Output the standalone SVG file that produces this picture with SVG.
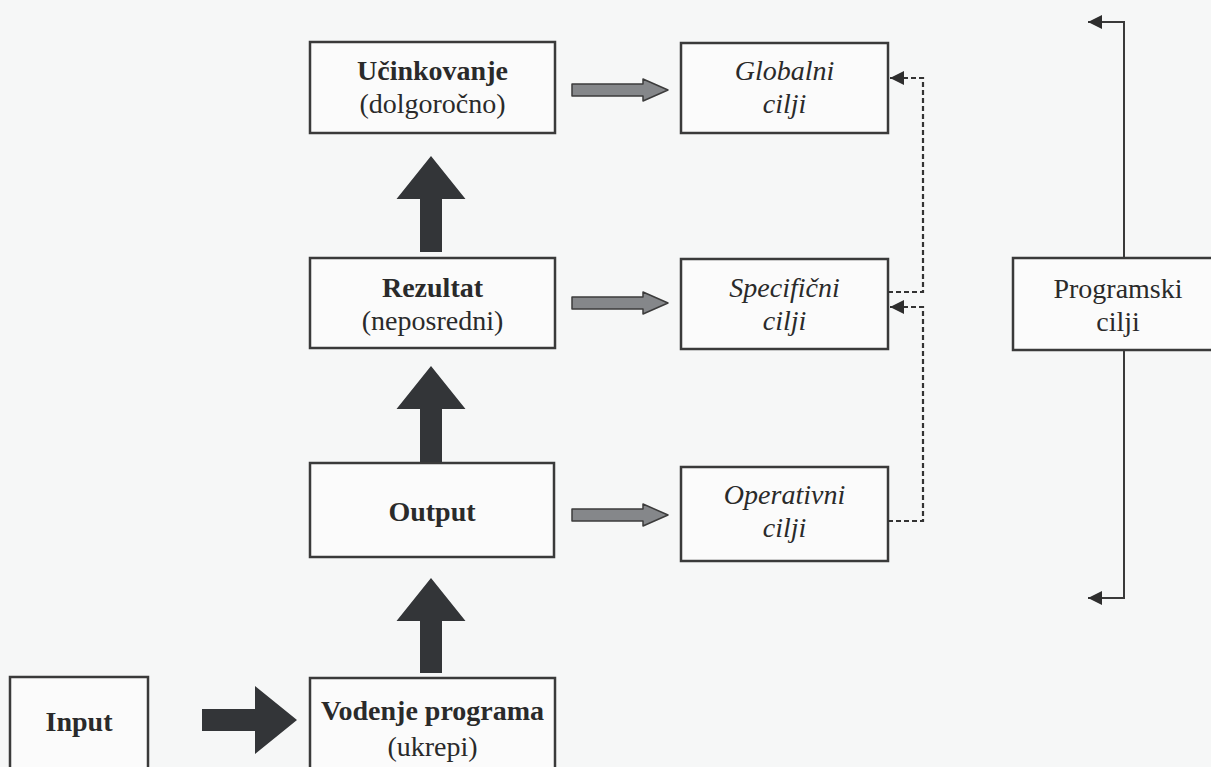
<svg xmlns="http://www.w3.org/2000/svg" width="1211" height="767" viewBox="0 0 1211 767">
<defs>
<style>
.box{fill:#fbfbfb;stroke:#3a3a3a;stroke-width:2.5}
.t{font-family:"Liberation Serif","Times New Roman",serif;font-size:28px;fill:#2a2a2a;text-anchor:middle}
.b{font-weight:bold}
.i{font-style:italic}
.blk{fill:#333538}
.gry{fill:#85878a;stroke:#3c3c3c;stroke-width:1.5;stroke-linejoin:round}
.dash{fill:none;stroke:#333;stroke-width:2.2;stroke-dasharray:5 3}
.sol{fill:none;stroke:#3a3a3a;stroke-width:2}
</style>
<marker id="ah" viewBox="0 0 10 10" refX="10" refY="5" markerWidth="14" markerHeight="14" markerUnits="userSpaceOnUse" orient="auto">
<path d="M0,0 L10,5 L0,10 z" fill="#2e2e2e"/>
</marker>
</defs>
<rect width="1211" height="767" fill="#f6f7f7"/>

<g id="ucinkovanje">
<rect class="box" x="310" y="42" width="245" height="91"/>
<text class="t b" x="432.5" y="80">Učinkovanje</text>
<text class="t" x="432.5" y="113">(dolgoročno)</text>
</g>
<g id="globalni">
<rect class="box" x="681" y="43" width="207" height="90"/>
<text class="t i" x="784.5" y="80">Globalni</text>
<text class="t i" x="784.5" y="113">cilji</text>
</g>
<g id="rezultat">
<rect class="box" x="310" y="258" width="245" height="90"/>
<text class="t b" x="432.5" y="297">Rezultat</text>
<text class="t" x="432.5" y="330">(neposredni)</text>
</g>
<g id="specificni">
<rect class="box" x="681" y="259" width="207" height="90"/>
<text class="t i" x="784.5" y="297">Specifični</text>
<text class="t i" x="784.5" y="330">cilji</text>
</g>
<g id="output">
<rect class="box" x="310" y="463" width="244" height="94"/>
<text class="t b" x="432" y="521">Output</text>
</g>
<g id="operativni">
<rect class="box" x="681" y="467" width="207" height="94"/>
<text class="t i" x="784.5" y="504">Operativni</text>
<text class="t i" x="784.5" y="537">cilji</text>
</g>
<g id="input">
<rect class="box" x="10" y="677" width="138" height="100"/>
<text class="t b" x="79" y="731">Input</text>
</g>
<g id="vodenje">
<rect class="box" x="310" y="678" width="245" height="100"/>
<text class="t b" x="432.5" y="720">Vodenje programa</text>
<text class="t" x="432.5" y="756">(ukrepi)</text>
</g>
<g id="programski">
<rect class="box" x="1013" y="258" width="210" height="92"/>
<text class="t" x="1118" y="298">Programski</text>
<text class="t" x="1118" y="331">cilji</text>
</g>

<g id="connectors">
<polygon class="blk" points="431,156 465.5,199 442,199 442,252 420,252 420,199 396.5,199"/>
<polygon class="blk" points="431,366 465.5,409 442,409 442,462 420,462 420,409 396.5,409"/>
<polygon class="blk" points="431,578 465.5,621 442,621 442,673 420,673 420,621 396.5,621"/>
<polygon class="blk" points="202,709 255,709 255,686 297,720 255,754 255,731 202,731"/>
<polygon class="gry" points="572,84 643,84 643,79 668,90 643,101 643,96 572,96"/>
<polygon class="gry" points="572,297 643,297 643,292 668,303 643,314 643,309 572,309"/>
<polygon class="gry" points="572,509 643,509 643,504 668,515 643,526 643,521 572,521"/>
<polyline class="dash" points="888,292 923,292 923,78 890,78" marker-end="url(#ah)"/>
<polyline class="dash" points="888,521 923,521 923,307 890,307" marker-end="url(#ah)"/>
<polyline class="sol" points="1124,258 1124,22 1088,22" marker-end="url(#ah)"/>
<polyline class="sol" points="1124,350 1124,598 1088,598" marker-end="url(#ah)"/>
</g>
</svg>
